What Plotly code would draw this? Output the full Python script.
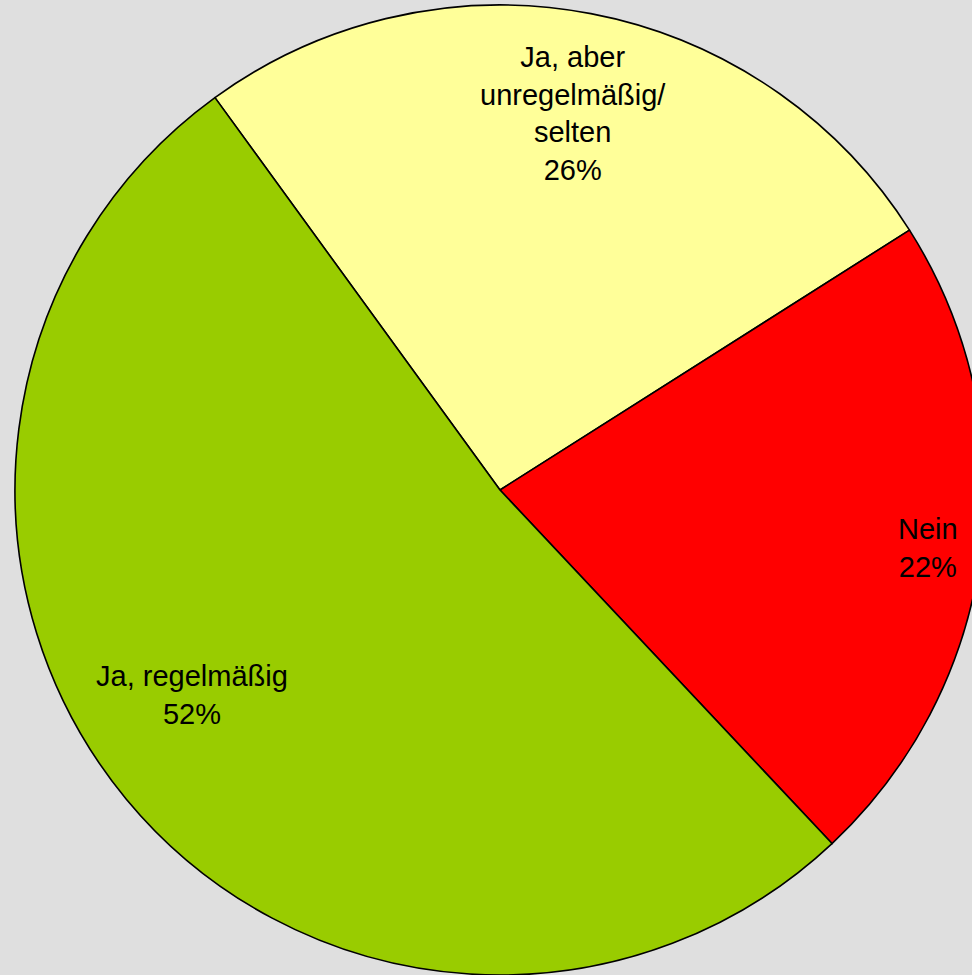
import math
import plotly.graph_objects as go

labels = ["Ja, aber unregelmäßig/ selten", "Nein", "Ja, regelmäßig"]
label_text = ["Ja, aber<br>unregelmäßig/<br>selten", "Nein", "Ja, regelmäßig"]
values = [26, 22, 52]
colors = ["#FFFF99", "#FF0000", "#99CC00"]

# label placement styling: radial fraction and small angular nudge (degrees)
label_r = [0.79, 0.89, 0.763]
label_dang = [0.2, 0.5, 5.9]
rotation = -36

fig = go.Figure(go.Pie(
    labels=labels,
    values=values,
    marker=dict(colors=colors, line=dict(color="#000000", width=1.6)),
    sort=False,
    direction="clockwise",
    rotation=rotation,
    textinfo="none",
    hoverinfo="label+percent",
    showlegend=False,
))

total = sum(values)
start = rotation
annotations = []
for lab, v, rf, da in zip(label_text, values, label_r, label_dang):
    span = v / total * 360.0
    mid = math.radians(start + span / 2 + da)
    start += span
    annotations.append(dict(
        x=0.5 + 0.5 * rf * math.sin(mid),
        y=0.5 + 0.5 * rf * math.cos(mid),
        xref="paper", yref="paper",
        text=f"{lab}<br>{round(v / total * 100)}%",
        showarrow=False,
        font=dict(family="Liberation Sans, Arial, sans-serif", size=29, color="#000000"),
        align="center",
        xanchor="center", yanchor="middle",
    ))

fig.update_layout(
    width=1000, height=975,
    margin=dict(l=15, r=15, t=5, b=0),
    paper_bgcolor="#DFDFDF",
    plot_bgcolor="#DFDFDF",
    annotations=annotations,
)

fig.write_html(
    "out.html",
    config={"displayModeBar": False},
    post_script="document.body.style.margin='0';document.body.style.background='#DFDFDF';"
                "document.documentElement.style.background='#DFDFDF';document.body.style.overflow='hidden';",
)
